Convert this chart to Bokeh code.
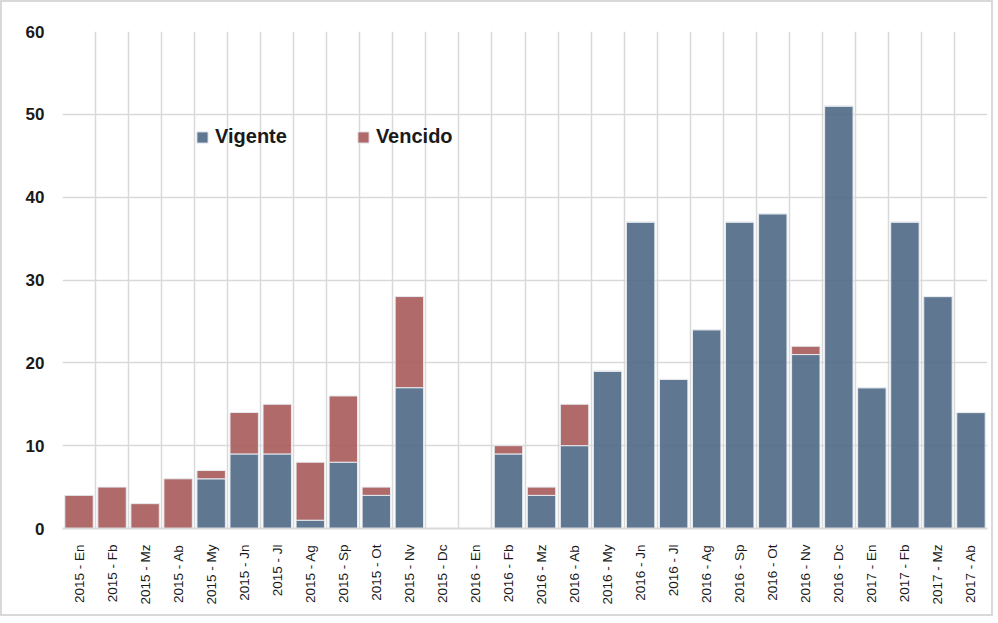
from bokeh.plotting import figure
from bokeh.models import Range1d, FixedTicker, Legend, LegendItem
from bokeh.embed import file_html
from bokeh.resources import INLINE
import math

categories = ["2015 - En", "2015 - Fb", "2015 - Mz", "2015 - Ab", "2015 - My", "2015 - Jn",
              "2015 - Jl", "2015 - Ag", "2015 - Sp", "2015 - Ot", "2015 - Nv", "2015 - Dc",
              "2016 - En", "2016 - Fb", "2016 - Mz", "2016 - Ab", "2016 - My", "2016 - Jn",
              "2016 - Jl", "2016 - Ag", "2016 - Sp", "2016 - Ot", "2016 - Nv", "2016 - Dc",
              "2017 - En", "2017 - Fb", "2017 - Mz", "2017 - Ab"]
vigente = [0, 0, 0, 0, 6, 9, 9, 1, 8, 4, 17, 0, 0, 9, 4, 10, 19, 37, 18, 24, 37, 38, 21, 51, 17, 37, 28, 14]
vencido = [4, 5, 3, 6, 1, 5, 6, 7, 8, 1, 11, 0, 0, 1, 1, 5, 0, 0, 0, 0, 0, 0, 1, 0, 0, 0, 0, 0]
y_ticks = [0, 10, 20, 30, 40, 50, 60]

n = len(categories)
xs = list(range(n))

p = figure(frame_width=925, frame_height=497, output_backend="svg", toolbar_location=None,
           x_range=Range1d(-0.5, n - 0.5), y_range=Range1d(0, 60),
           min_border_left=60, min_border_top=29, min_border_right=4, min_border_bottom=86)
p.styles = {"border": "2px solid #d9d9d9"}
p.outline_line_color = None
p.background_fill_color = "white"
p.border_fill_color = "white"

data = dict(x=xs, Vigente=vigente, Vencido=vencido)
r = p.vbar_stack(["Vigente", "Vencido"], x="x", width=0.86, source=data,
                 color=["#4e6885", "#a75a5a"], fill_alpha=0.9,
                 line_color="#e6ebf0", line_width=1)

# axes
p.xaxis.ticker = FixedTicker(ticks=xs)
p.xaxis.major_label_overrides = {i: c for i, c in enumerate(categories)}
p.xaxis.major_label_orientation = math.pi / 2
p.xaxis.major_label_text_font = "Liberation Sans"
p.xaxis.major_label_text_font_size = "13.5px"
p.xaxis.major_label_text_color = "#1a1a1a"
p.xaxis.major_tick_line_color = None
p.xaxis.minor_tick_line_color = None
p.xaxis.axis_line_color = "#d9d9d9"
p.xaxis.axis_line_width = 2
p.xaxis.major_label_standoff = 10

p.yaxis.ticker = FixedTicker(ticks=y_ticks)
p.yaxis.major_label_text_font = "Liberation Sans"
p.yaxis.major_label_text_font_style = "bold"
p.yaxis.major_label_text_font_size = "17px"
p.yaxis.major_label_text_color = "#1a1a1a"
p.yaxis.major_tick_line_color = None
p.yaxis.minor_tick_line_color = None
p.yaxis.axis_line_color = None
p.yaxis.major_label_standoff = 12

# grids
p.ygrid.ticker = FixedTicker(ticks=y_ticks)
p.ygrid.grid_line_color = "#d9d9d9"
p.ygrid.grid_line_width = 1.5
p.xgrid.ticker = FixedTicker(ticks=[i - 0.5 for i in range(n + 1)])
p.xgrid.grid_line_color = "#d9d9d9"
p.xgrid.grid_line_width = 1.5

legend = Legend(items=[LegendItem(label="Vigente", renderers=[r[0]]),
                       LegendItem(label="Vencido", renderers=[r[1]])],
                orientation="horizontal", location=(133, 380),
                background_fill_alpha=0, border_line_color=None,
                label_text_font="Liberation Sans", label_text_font_style="bold",
                label_text_font_size="20px", label_text_color="#1a1a1a",
                glyph_width=14, glyph_height=14, label_standoff=6, spacing=69,
                padding=0, margin=0)
p.add_layout(legend, "center")

open("out.html", "w").write(file_html(p, INLINE))
